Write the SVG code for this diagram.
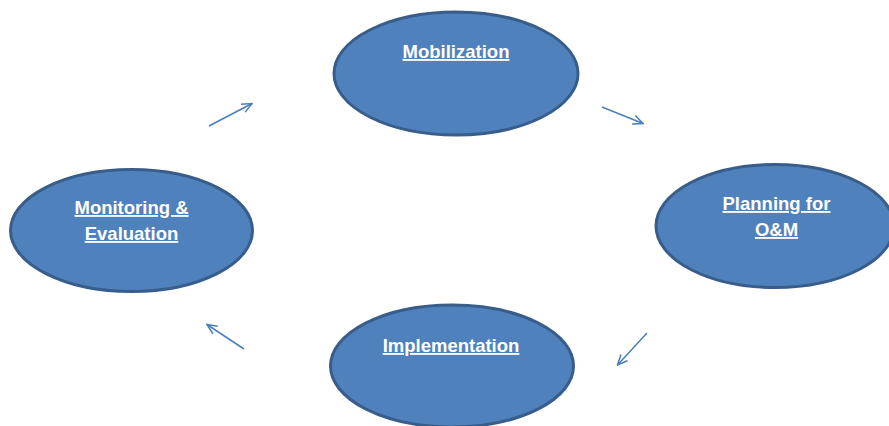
<svg xmlns="http://www.w3.org/2000/svg" width="889" height="426" viewBox="0 0 889 426">
<style>
.n{fill:#4f81bd;stroke:#385d8a;stroke-width:3}
.t{font-family:"Liberation Sans",Arial,sans-serif;font-weight:bold;font-size:18.5px;fill:#fff;text-anchor:middle;text-decoration:underline}
.c{stroke:#4a7ebb;stroke-width:1.5;fill:none;marker-end:url(#a)}
</style>
<defs>
<marker id="a" viewBox="0 0 12 12" refX="11" refY="6" markerWidth="12" markerHeight="12" markerUnits="userSpaceOnUse" orient="auto">
<path d="M1,1.5 L11,6 L1,10.5" fill="none" stroke="#4a7ebb" stroke-width="1.5"/>
</marker>
</defs>
<rect width="889" height="426" fill="#fff"/>
<g id="mobilization"><ellipse class="n" cx="456" cy="73.5" rx="122" ry="61.5"/><text class="t" x="456" y="58">Mobilization</text></g>
<g id="planning"><ellipse class="n" cx="775" cy="226" rx="119" ry="61.5"/><text class="t" x="776.5" y="210">Planning for</text><text class="t" x="776.5" y="236">O&amp;M</text></g>
<g id="implementation"><ellipse class="n" cx="452" cy="366" rx="121.5" ry="61"/><text class="t" x="451" y="352">Implementation</text></g>
<g id="monitoring"><ellipse class="n" cx="131.5" cy="230.5" rx="121" ry="61"/><text class="t" x="131.5" y="214">Monitoring &amp;</text><text class="t" x="131.5" y="240">Evaluation</text></g>
<g id="connectors">
<line class="c" x1="209" y1="126" x2="252" y2="103.5"/>
<line class="c" x1="602" y1="107" x2="643" y2="123.5"/>
<line class="c" x1="647" y1="333" x2="617.5" y2="365"/>
<line class="c" x1="244" y1="349" x2="207" y2="324.5"/>
</g>
</svg>
